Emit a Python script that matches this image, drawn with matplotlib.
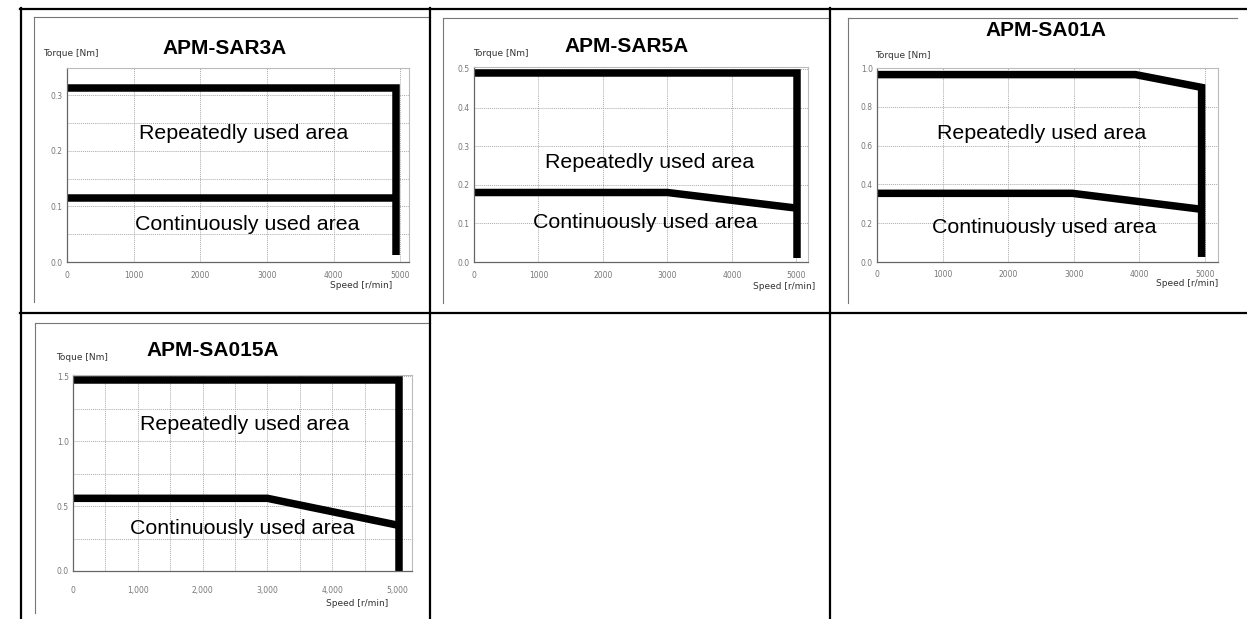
import matplotlib.pyplot as plt
from matplotlib.lines import Line2D
from matplotlib.ticker import MultipleLocator, FuncFormatter

W, H = 1247, 619

# chart data, one entry per motor
titles = ['APM-SAR3A', 'APM-SAR5A', 'APM-SA01A', 'APM-SA015A']
torque_labels = ['Torque [Nm]', 'Torque [Nm]', 'Torque [Nm]', 'Toque [Nm]']

rep_speed = [[0, 4940, 4940],
             [0, 5010, 5010],
             [0, 3940, 4950, 4950],
             [0, 5030, 5030]]
rep_torque = [[0.313, 0.313, 0.013],
              [0.49, 0.49, 0.01],
              [0.966, 0.966, 0.90, 0.026],
              [1.475, 1.475, 0.0]]

cont_speed = [[0, 4940],
              [0, 3000, 4980],
              [0, 2980, 4940],
              [0, 3000, 5000]]
cont_torque = [[0.115, 0.115],
               [0.18, 0.18, 0.14],
               [0.354, 0.354, 0.272],
               [0.56, 0.56, 0.354]]

xlims = [5130, 5180, 5200, 5230]
ylims = [0.349, 0.505, 1.0, 1.51]
y_major = [0.1, 0.1, 0.2, 0.5]
y_minor = [0.05, 0.1, 0.2, 0.25]
x_minor = [1000, 1000, 1000, 500]
y_fmt = ['{:.1f}', '{:.1f}', '{:.1f}', '{:.1f}']
x_fmt = ['{:.0f}', '{:.0f}', '{:.0f}', '{:,.0f}']

# layout in pixels (left, top, right, bottom) of each plot area
plot_box = [(67, 68, 409, 262), (474, 67, 808, 262),
            (877, 68, 1218, 262), (73, 375, 412, 571)]
x_pad = [6.5, 6.5, 5.5, 11]
title_pos = [(225, 48), (627, 46), (1046, 31), (213, 350)]
torque_pos = [(43, 53), (473, 53), (875, 55), (56, 358)]
speed_pos = [(392, 285), (815, 286), (1218, 283), (388, 604)]
rep_pos = [(139, 133), (545, 162), (937, 133), (140, 425)]
cont_pos = [(135, 225), (533, 223), (932, 227), (130, 528)]
frames = [(34, 17, 430, 302), (443, 18, 830, 303),
          (848, 18, 1237, 303), (35, 323, 430, 613)]


def fx(x):
    return x / W


def fy(y):
    return 1 - y / H


fig = plt.figure(figsize=(W / 100, H / 100), dpi=100)
fig.patch.set_facecolor('white')

# grey frames of the pasted chart images
for l, t, r, b in frames:
    fig.add_artist(Line2D([fx(l), fx(l)], [fy(t), fy(b)], color='#777777', lw=0.8))
    fig.add_artist(Line2D([fx(l), fx(r)], [fy(t), fy(t)], color='#777777', lw=0.8))

for i in range(4):
    l, t, r, b = plot_box[i]
    ax = fig.add_axes([fx(l), fy(b), (r - l) / W, (b - t) / H])
    ax.set_xlim(0, xlims[i])
    ax.set_ylim(0, ylims[i])
    ax.xaxis.set_major_locator(MultipleLocator(1000))
    ax.xaxis.set_minor_locator(MultipleLocator(x_minor[i]))
    ax.yaxis.set_major_locator(MultipleLocator(y_major[i]))
    ax.yaxis.set_minor_locator(MultipleLocator(y_minor[i]))
    ax.xaxis.set_major_formatter(FuncFormatter(lambda v, p, f=x_fmt[i]: f.format(v)))
    ax.yaxis.set_major_formatter(FuncFormatter(lambda v, p, f=y_fmt[i]: f.format(v)))
    ax.grid(True, which='both', color='#aaaaaa', linestyle=(0, (1, 1)), lw=0.7)
    ax.set_axisbelow(True)
    ax.tick_params(which='both', length=0, labelsize=5.5, labelcolor='#777777')
    ax.tick_params(axis='x', pad=x_pad[i])
    ax.tick_params(axis='y', pad=3)
    for s in ['left', 'bottom']:
        ax.spines[s].set_color('#666666')
        ax.spines[s].set_linewidth(0.9)
    for s in ['top', 'right']:
        ax.spines[s].set_color('#bbbbbb')
        ax.spines[s].set_linewidth(0.8)

    ax.plot(rep_speed[i], rep_torque[i], color='black', lw=5.4,
            solid_joinstyle='miter', solid_capstyle='butt', clip_on=False)
    ax.plot(cont_speed[i], cont_torque[i], color='black', lw=5.4,
            solid_joinstyle='miter', solid_capstyle='butt', clip_on=False)

    fig.text(fx(title_pos[i][0]), fy(title_pos[i][1]), titles[i], ha='center', va='center',
             fontsize=15, fontweight='bold', family='Liberation Sans')
    fig.text(fx(torque_pos[i][0]), fy(torque_pos[i][1]), torque_labels[i], ha='left',
             va='center', fontsize=6.5, color='#333333')
    fig.text(fx(speed_pos[i][0]), fy(speed_pos[i][1]), 'Speed [r/min]', ha='right',
             va='center', fontsize=6.5, color='#333333')
    fig.text(fx(rep_pos[i][0]), fy(rep_pos[i][1]), 'Repeatedly used area', ha='left',
             va='center', fontsize=15.4, family='Liberation Sans')
    fig.text(fx(cont_pos[i][0]), fy(cont_pos[i][1]), 'Continuously used area', ha='left',
             va='center', fontsize=15.4, family='Liberation Sans')

# table borders
table_lw = 1.6
fig.add_artist(Line2D([fx(21), fx(21)], [fy(8), fy(619)], color='black', lw=table_lw))
fig.add_artist(Line2D([fx(20), fx(1247)], [fy(9), fy(9)], color='black', lw=table_lw))
fig.add_artist(Line2D([fx(20), fx(1247)], [fy(313), fy(313)], color='black', lw=table_lw))
fig.add_artist(Line2D([fx(430), fx(430)], [fy(8), fy(619)], color='black', lw=table_lw))
fig.add_artist(Line2D([fx(830), fx(830)], [fy(8), fy(619)], color='black', lw=table_lw))

fig.savefig('out.png', dpi=100)
